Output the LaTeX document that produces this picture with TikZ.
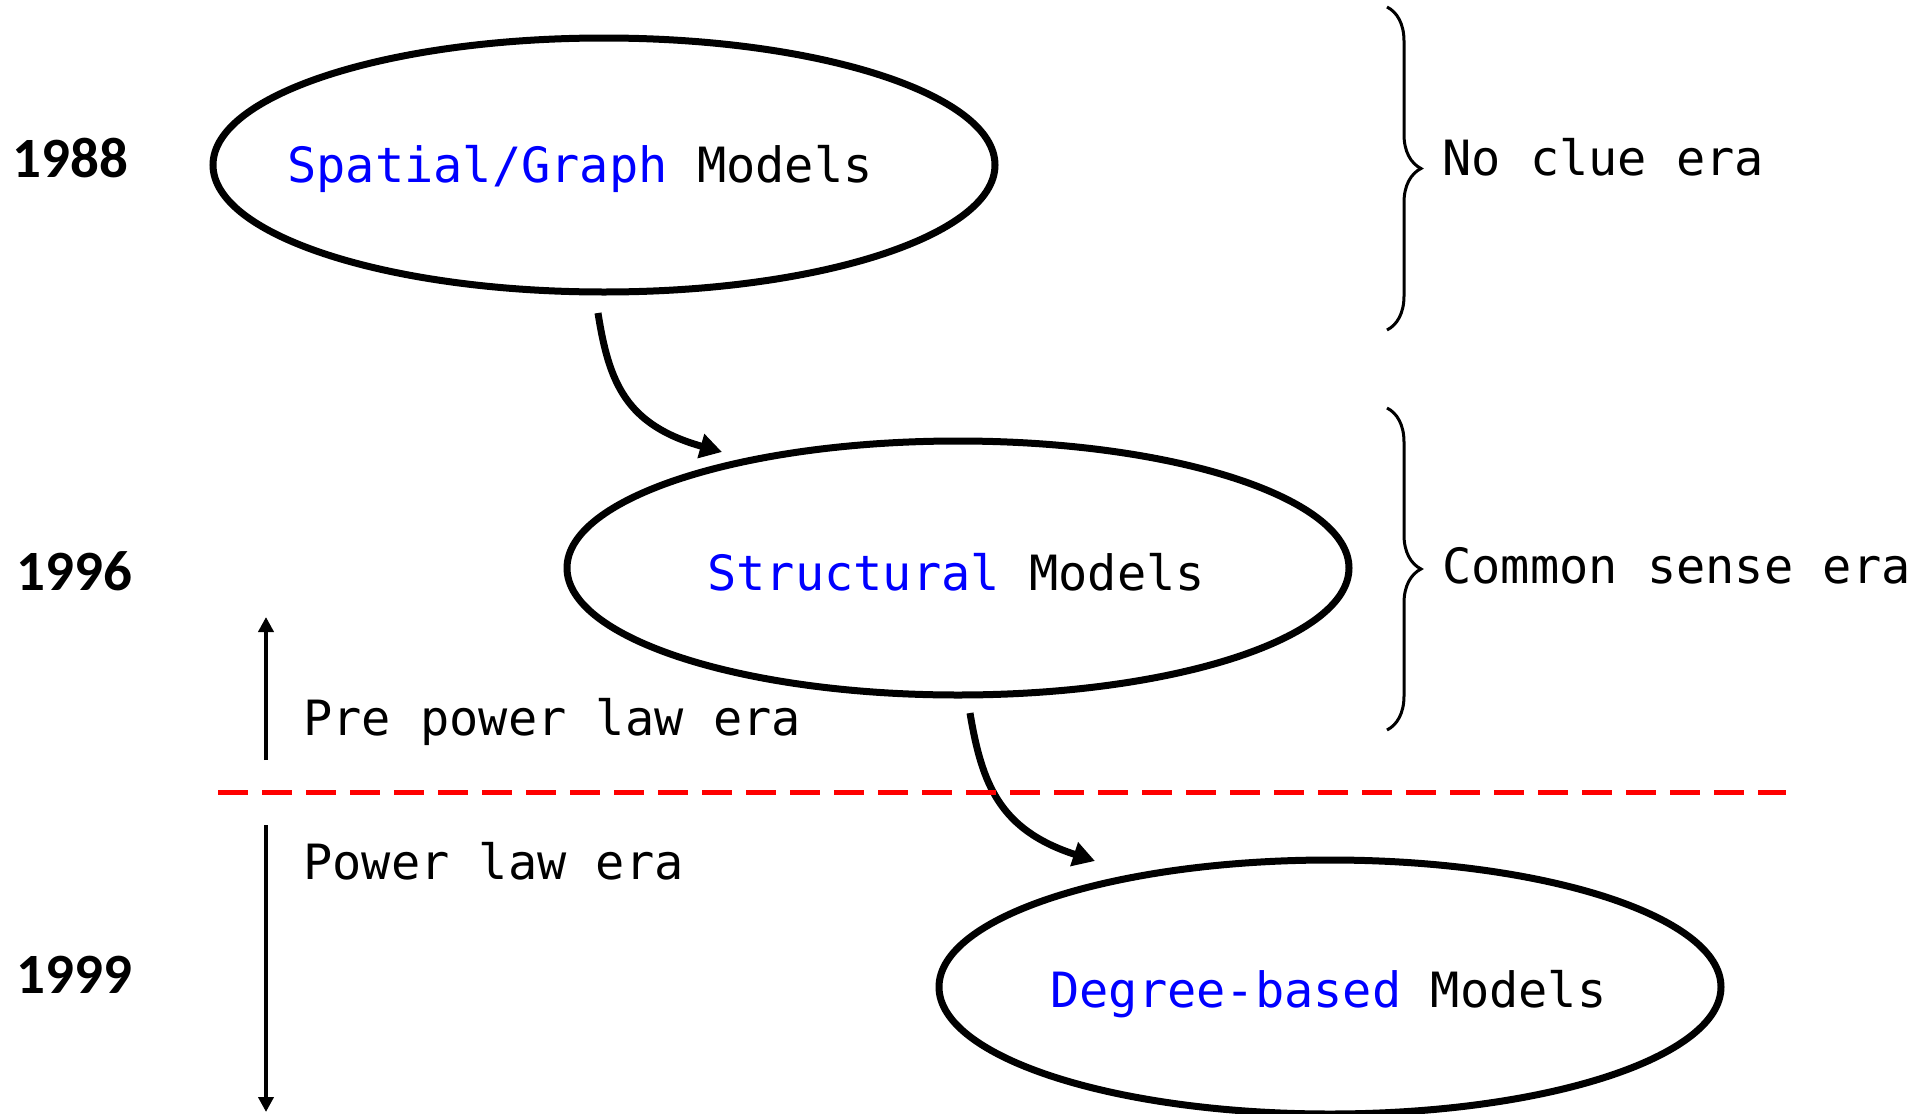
\documentclass[tikz,border=0pt]{standalone}
\usepackage{fontspec}
\setmonofont{DejaVu Sans Mono}
\newfontfamily\yearfont{Carlito}
\usetikzlibrary{shapes.geometric,arrows.meta,decorations.pathreplacing}
\definecolor{modelblue}{RGB}{0,0,255}
\definecolor{splitred}{RGB}{255,0,0}
\begin{document}
\begin{tikzpicture}[x=0.5pt,y=-0.5pt,
  model/.style={ellipse, draw, line width=3.5pt, minimum width=391pt,
                minimum height=127pt, inner sep=0pt},
  mono/.style={font=\ttfamily\fontsize{24.3}{28}\selectfont, anchor=base west, inner sep=0pt},
  year/.style={font=\yearfont\bfseries\fontsize{28.5}{32}\selectfont, anchor=base west, inner sep=0pt},
  flow/.style={line width=3.5pt, -{Triangle[length=11pt,width=12pt]}},
  span/.style={line width=2pt, -{Triangle[length=7.5pt,width=7.5pt]}},
  era/.style={decorate, decoration={brace, amplitude=17pt}, line width=1.5pt},
  split/.style={splitred, line width=2.5pt, dash pattern=on 15pt off 7pt},
]
\useasboundingbox (0,0) rectangle (1929,1114);

% model ellipses
\node[model] (e1) at (604,165) {};
\node[model] (e2) at (958,568) {};
\node[model] (e3) at (1330,987) {};

% model labels
\node[mono] (t1) at (287,182) {\textcolor{modelblue}{Spatial/Graph} Models};
\node[mono] (t2) at (707,590) {\textcolor{modelblue}{Structural} Models};
\node[mono] (t3) at (1050,1007) {\textcolor{modelblue}{Degree-based} Models};

% years
\node[year] (y1) at (12,177) {1988};
\node[year] (y2) at (16,590) {1996};
\node[year] (y3) at (16,993) {1999};

% transitions between models
\coordinate (a1s) at (598,313);
\coordinate (a1e) at (722,452);
\coordinate (a2s) at (970,713);
\coordinate (a2e) at (1095,861);
\draw[flow] (a1s) .. controls (609,383) and (626,425) .. (a1e);
\draw[flow] (a2s) .. controls (982,785) and (1000,830) .. (a2e);

% era braces
\coordinate (b1t) at (1387,7);
\coordinate (b1b) at (1387,330);
\coordinate (b2t) at (1387,408);
\coordinate (b2b) at (1387,730);
\draw[era] (b1t) -- (b1b);
\draw[era] (b2t) -- (b2b);
\node[mono] (n1) at (1442,175) {No clue era};
\node[mono] (n2) at (1442,583) {Common sense era};

% power law split
\coordinate (sl) at (218,792);
\coordinate (sr) at (1786,792);
\draw[split] (sl) -- (sr);

\coordinate (u1) at (266,760);
\coordinate (u2) at (266,617);
\coordinate (d1) at (266,825);
\coordinate (d2) at (266,1112);
\draw[span] (u1) -- (u2);
\draw[span] (d1) -- (d2);
\node[mono] (p1) at (303,735) {Pre power law era};
\node[mono] (p2) at (303,879) {Power law era};
\end{tikzpicture}
\end{document}
